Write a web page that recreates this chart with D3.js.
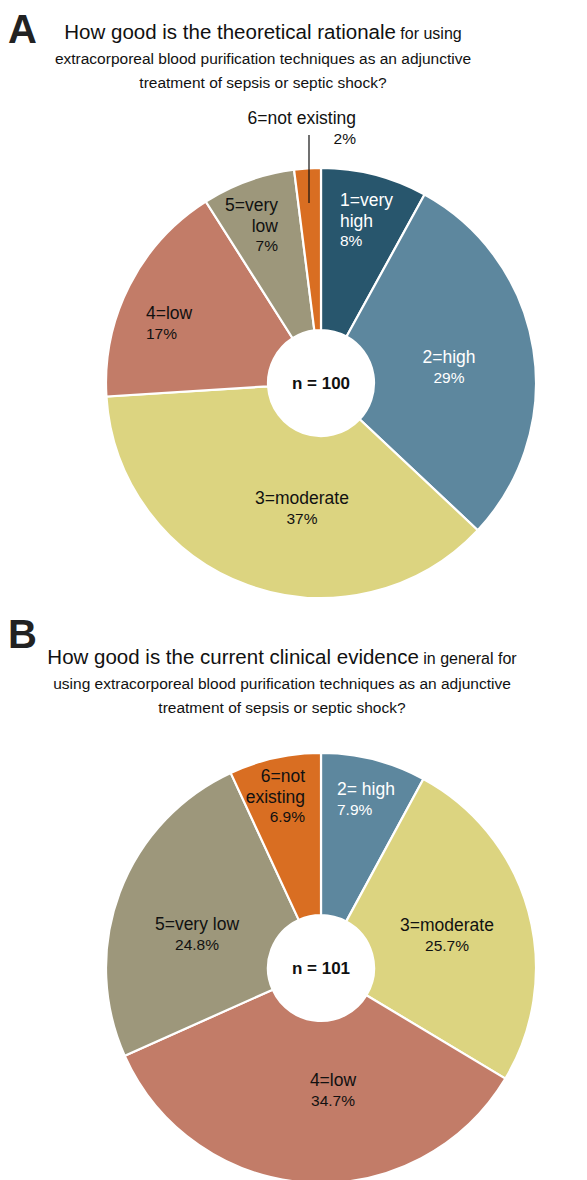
<!DOCTYPE html>
<html><head><meta charset="utf-8">
<script src="https://cdn.jsdelivr.net/npm/d3@7"></script>
<style>body{margin:0;background:#fff}svg{display:block;font-family:"Liberation Sans",Arial,sans-serif}</style>
</head><body>
<svg id="c" width="587" height="1180"></svg>
<script>
// ---- data ----
const categoriesA = ["1=very high","2=high","3=moderate","4=low","5=very low","6=not existing"];
const valuesA = [8, 29, 37, 17, 7, 2];
const pctLabelsA = ["8%","29%","37%","17%","7%","2%"];
const nA = 100;

const categoriesB = ["2= high","3=moderate","4=low","5=very low","6=not existing"];
const valuesB = [7.9, 25.7, 34.7, 24.8, 6.9];
const pctLabelsB = ["7.9%","25.7%","34.7%","24.8%","6.9%"];
const nB = 101;

const colorMap = {
  "1=very high":"#28566d","2=high":"#5d879e","2= high":"#5d879e","3=moderate":"#dcd480",
  "4=low":"#c27c68","5=very low":"#9d977b","6=not existing":"#d96e22"
};

// ---- layout (label text lines, anchors relative to pie centre) ----
const layoutA = [
  {lines:["1=very","high"], anchor:"start", dx:19, dy:-183, fill:"#fff"},
  {lines:["2=high"], anchor:"middle", dx:128, dy:-26, fill:"#fff"},
  {lines:["3=moderate"], anchor:"middle", dx:-19, dy:115, fill:"#111"},
  {lines:["4=low"], anchor:"start", dx:-175, dy:-70, fill:"#111"},
  {lines:["5=very","low"], anchor:"end", dx:-43, dy:-178, fill:"#111"},
  {lines:["6=not existing"], anchor:"end", dx:35, dy:-265, fill:"#111"}
];
const layoutB = [
  {lines:["2= high"], anchor:"start", dx:16, dy:-179, fill:"#fff"},
  {lines:["3=moderate"], anchor:"middle", dx:126, dy:-43, fill:"#111"},
  {lines:["4=low"], anchor:"middle", dx:12, dy:112, fill:"#111"},
  {lines:["5=very low"], anchor:"middle", dx:-124, dy:-44, fill:"#111"},
  {lines:["6=not","existing"], anchor:"end", dx:-16, dy:-192, fill:"#111"}
];

const svg = d3.select("#c");
const R = 215, r0 = 53, cx = 321;
const LS = 20.5, FS = 17.5, PS = 15.5;

function drawPie(cy, cats, vals, pcts, layout, n){
  const g = svg.append("g").attr("transform",`translate(${cx},${cy})`);
  const pie = d3.pie().sort(null).value(d=>d.v);
  const data = pie(vals.map((v,i)=>({v, c:cats[i], p:pcts[i], L:layout[i]})));
  const arc = d3.arc().innerRadius(r0).outerRadius(R);
  g.selectAll("path").data(data).join("path")
    .attr("d",arc).attr("fill",d=>colorMap[d.data.c])
    .attr("stroke","#fff").attr("stroke-width",2.2);
  data.forEach(d=>{
    const L = d.data.L;
    const t = g.append("text").attr("text-anchor",L.anchor).attr("fill",L.fill);
    const lines = L.lines.concat([d.data.p]);
    lines.forEach((s,i)=>{
      t.append("tspan").attr("x",L.dx).attr("y",L.dy+i*LS).attr("dy","0.35em")
       .attr("font-size", i===lines.length-1 ? PS : FS).text(s);
    });
  });
  g.append("text").attr("text-anchor","middle").attr("dy","0.35em")
    .attr("font-weight","bold").attr("font-size",17).attr("fill","#111")
    .text("n = "+n);
  return g;
}

// Titles
function title(letter, ly, cxT, y0, big, small, l2, l3){
  svg.append("text").attr("x",8).attr("y",ly).attr("font-weight","bold")
    .attr("font-size",40).attr("fill","#222").text(letter);
  const t1 = svg.append("text").attr("x",cxT).attr("y",y0).attr("text-anchor","middle").attr("fill","#111");
  t1.append("tspan").attr("font-size",20.5).text(big);
  t1.append("tspan").attr("font-size",16).text(" "+small);
  svg.append("text").attr("x",cxT).attr("y",y0+25).attr("text-anchor","middle").attr("font-size",15.5).attr("fill","#111").text(l2);
  svg.append("text").attr("x",cxT).attr("y",y0+49).attr("text-anchor","middle").attr("font-size",15.5).attr("fill","#111").text(l3);
}
title("A", 43, 263, 39, "How good is the theoretical rationale","for using",
  "extracorporeal blood purification techniques as an adjunctive",
  "treatment of sepsis or septic shock?");
title("B", 648, 282, 664, "How good is the current clinical evidence","in general for",
  "using extracorporeal blood purification techniques as an adjunctive",
  "treatment of sepsis or septic shock?");

const gA = drawPie(383, categoriesA, valuesA, pctLabelsA, layoutA, nA);
// leader line for the small slice
gA.append("line").attr("x1",-12).attr("x2",-12).attr("y1",-248).attr("y2",-180)
  .attr("stroke","#111").attr("stroke-width",1.2);
drawPie(968, categoriesB, valuesB, pctLabelsB, layoutB, nB);
</script>
</body></html>
